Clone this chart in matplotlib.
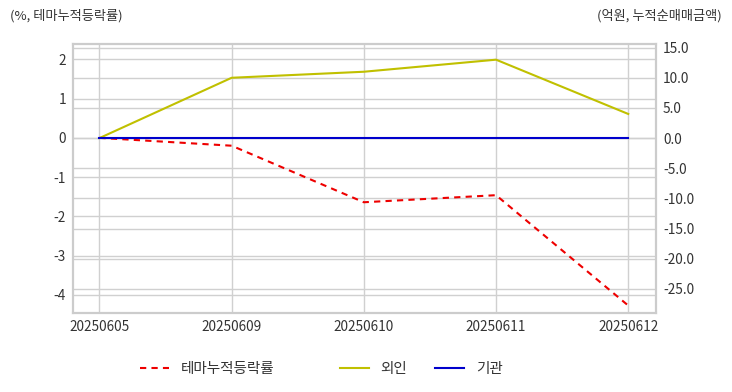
import matplotlib
matplotlib.use('Agg')
from matplotlib import pyplot as plt
from matplotlib import transforms
import numpy as np

plt.rcParams['font.family'] = ['Noto Sans CJK KR', 'DejaVu Sans']

# data
dates = ['20250605', '20250609', '20250610', '20250611', '20250612']
theme_rate = [0.0, -0.2, -1.64, -1.46, -4.27]      # %, left axis
foreign = [0.0, 10.0, 11.0, 13.0, 4.0]             # 억원, right axis
institution = [0.0, 0.0, 0.0, 0.0, 0.0]            # 억원, right axis
left_ticks = [-4, -3, -2, -1, 0, 1, 2]
right_ticks = [-25, -20, -15, -10, -5, 0, 5, 10, 15]

text_color = '#333333'
grid_color = '#d0d0d0'

fig = plt.figure(figsize=(7.32, 3.92), dpi=100)
ax0 = fig.add_axes([73/732, 1 - 313/392, (656-73)/732, (313-44)/392])
ax1 = ax0.twinx()

x = np.arange(len(dates))
l0, = ax0.plot(x, theme_rate, color='#ee0000', linestyle=(0, (3, 2.5)), linewidth=1.5,
               label='테마누적등락률', zorder=3)
l1, = ax1.plot(x, foreign, color='#c0c000', linewidth=1.5, label='외인', zorder=3)
l2, = ax1.plot(x, institution, color='#0000cc', linewidth=1.5, label='기관', zorder=3)

ax0.set_xlim(-0.2, 4.21)
ax0.set_ylim(-4.46, 2.39)
ax1.set_ylim(-29.0, 15.6)

ax0.set_xticks(x)
ax0.set_xticklabels(dates)
ax0.set_yticks(left_ticks)
ax0.set_yticklabels([str(v) for v in left_ticks])
ax1.set_yticks(right_ticks)
ax1.set_yticklabels(['%.1f' % v for v in right_ticks])

# all gridlines live on the bottom axes so no line gets covered
ax0.grid(True, color=grid_color, linewidth=1, zorder=0)
ax0.set_axisbelow(True)
ax1.grid(False)
trans = transforms.blended_transform_factory(ax0.transAxes, ax1.transData)
for v in right_ticks:
    ax0.plot([0, 1], [v, v], transform=trans, color=grid_color, linewidth=1, zorder=0.5)

for ax in (ax0, ax1):
    for s in ax.spines.values():
        s.set_color('#cccccc')
        s.set_linewidth(1.5)
    ax.tick_params(length=0, labelsize=9.8, colors=text_color, pad=5)

fig.text(10/732, 1 - 16/392, '(%, 테마누적등락률)', fontsize=9.5, color=text_color, va='center', ha='left')
fig.text(722/732, 1 - 16/392, '(억원, 누적순매매금액)', fontsize=9.5, color=text_color, va='center', ha='right')

leg0 = fig.legend(handles=[l0], loc='center', bbox_to_anchor=(207/732, 1 - 369/392),
                  frameon=False, fontsize=10.5, handlelength=2.0, handletextpad=0.8,
                  labelcolor=text_color)
leg1 = fig.legend(handles=[l1, l2], loc='center', bbox_to_anchor=(421/732, 1 - 369/392), ncol=2,
                  frameon=False, fontsize=10.5, handlelength=2.0, handletextpad=0.8,
                  columnspacing=1.9, labelcolor=text_color)

fig.savefig('out.png', dpi=100)
